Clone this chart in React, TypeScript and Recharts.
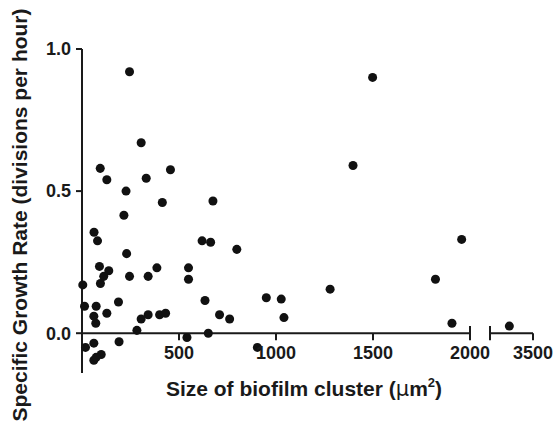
import { ReferenceLine, Scatter, ScatterChart, XAxis, YAxis, ZAxis } from "recharts";

// cluster size (µm²) and specific growth rate (divisions per hour)
const sizeUm2 = [
  245, 305, 94, 128, 331, 456, 227, 414, 675, 216,
  62, 80, 230, 619, 663, 798, 90, 138, 112, 95,
  4, 245, 341, 386, 549, 549, 13, 73, 61, 71,
  128, 188, 305, 341, 400, 431, 283, 634, 651, 709,
  761, 950, 1027, 1041, 1279, 1397, 1498, 1822, 1957, 1907,
  541, 904, 18, 61, 61, 99, 73, 191,
];
const growthRate = [
  0.92, 0.67, 0.58, 0.54, 0.545, 0.575, 0.5, 0.46, 0.465, 0.415,
  0.355, 0.325, 0.28, 0.325, 0.32, 0.295, 0.235, 0.22, 0.2, 0.175,
  0.17, 0.2, 0.2, 0.23, 0.23, 0.19, 0.095, 0.095, 0.06, 0.035,
  0.07, 0.11, 0.05, 0.065, 0.065, 0.07, 0.01, 0.115, 0.0, 0.065,
  0.05, 0.125, 0.12, 0.055, 0.155, 0.59, 0.9, 0.19, 0.33, 0.035,
  -0.015, -0.05, -0.05, -0.035, -0.095, -0.075, -0.085, -0.03,
];
// the one cluster past the axis break
const farSizeUm2 = [3225];
const farGrowthRate = [0.025];

const mainXTicks = [500, 1000, 1500, 2000];
const farXTicks = [3500];
const yTicks = [0, 0.5, 1];

const mainData = sizeUm2.map((x, i) => ({ x, y: growthRate[i] }));
const farData = farSizeUm2.map((x, i) => ({ x, y: farGrowthRate[i] }));

const Y_DOMAIN: [number, number] = [-0.14, 1];
const INK = "#1a1a1a";
const FONT = '"Liberation Sans", Arial, Helvetica, sans-serif';
const TICK = 0.025; // tick mark length, in growth-rate units
const DOT_AREA = 108;
const H = 425;
const MARGIN_TOP = 49;
const MARGIN_BOTTOM = 52;

const tickLabel = (value: number) => ({
  value: String(value),
  position: "bottom" as const,
  offset: 6,
  fill: INK,
  fontSize: 18,
  fontWeight: 700,
  fontFamily: FONT,
});

const YTitle = (props: any) => {
  const vb = props.viewBox;
  const x = vb.x + 5;
  const y = vb.y + vb.height / 2 + 4;
  return (
    <text
      x={x}
      y={y}
      transform={`rotate(-90 ${x} ${y})`}
      textAnchor="middle"
      fill={INK}
      fontSize={21}
      fontWeight={700}
      fontFamily={FONT}
    >
      Specific Growth Rate (divisions per hour)
    </text>
  );
};

export default function App() {
  return (
    <div style={{ position: "absolute", left: 0, top: 0, width: 554, height: H, background: "#fff" }}>
      <div style={{ position: "absolute", left: 0, top: 0 }}>
        <ScatterChart
          width={554}
          height={H}
          margin={{ top: MARGIN_TOP, right: 84, bottom: MARGIN_BOTTOM, left: 22 }}
        >
          <XAxis type="number" dataKey="x" domain={[0, 2000]} hide />
          <YAxis
            type="number"
            dataKey="y"
            domain={Y_DOMAIN}
            ticks={yTicks}
            tickFormatter={(v: number) => v.toFixed(1)}
            width={60}
            axisLine={{ stroke: INK, strokeWidth: 2 }}
            tickLine={{ stroke: INK, strokeWidth: 2 }}
            tickSize={6}
            tickMargin={5}
            tick={{ fill: INK, fontSize: 18, fontWeight: 700, fontFamily: FONT }}
            label={YTitle}
          />
          <ZAxis range={[DOT_AREA, DOT_AREA]} />
          <ReferenceLine y={0} stroke={INK} strokeWidth={2} />
          {mainXTicks.map((t) => (
            <ReferenceLine
              key={t}
              segment={[
                { x: t, y: t === 2000 ? TICK : 0 },
                { x: t, y: -TICK },
              ]}
              stroke={INK}
              strokeWidth={2}
              label={tickLabel(t)}
            />
          ))}
          <Scatter data={mainData} fill="#111" isAnimationActive={false} />
        </ScatterChart>
      </div>

      <div style={{ position: "absolute", left: 0, top: 0 }}>
        <ScatterChart
          width={554}
          height={H}
          margin={{ top: MARGIN_TOP, right: 21, bottom: MARGIN_BOTTOM, left: 490 }}
        >
          <XAxis type="number" dataKey="x" domain={[3000, 3500]} hide />
          <YAxis type="number" dataKey="y" domain={Y_DOMAIN} hide />
          <ZAxis range={[DOT_AREA, DOT_AREA]} />
          <ReferenceLine y={0} stroke={INK} strokeWidth={2} />
          <ReferenceLine
            segment={[
              { x: 3000, y: TICK },
              { x: 3000, y: -TICK },
            ]}
            stroke={INK}
            strokeWidth={2}
          />
          {farXTicks.map((t) => (
            <ReferenceLine
              key={t}
              segment={[
                { x: t, y: 0 },
                { x: t, y: -TICK },
              ]}
              stroke={INK}
              strokeWidth={2}
              label={tickLabel(t)}
            />
          ))}
          <Scatter data={farData} fill="#111" isAnimationActive={false} />
        </ScatterChart>
      </div>

      <svg
        width={554}
        height={H}
        style={{ position: "absolute", left: 0, top: 0, pointerEvents: "none" }}
      >
        <text
          x={304}
          y={396}
          textAnchor="middle"
          fill={INK}
          fontSize={21}
          fontWeight={700}
          fontFamily={FONT}
        >
          Size of biofilm cluster (<tspan fontFamily="DejaVu Sans, sans-serif" fontWeight={400}>μ</tspan>m
          <tspan dy={-9} fontSize={13}>2</tspan>
          <tspan dy={9}>)</tspan>
        </text>
      </svg>
    </div>
  );
}
